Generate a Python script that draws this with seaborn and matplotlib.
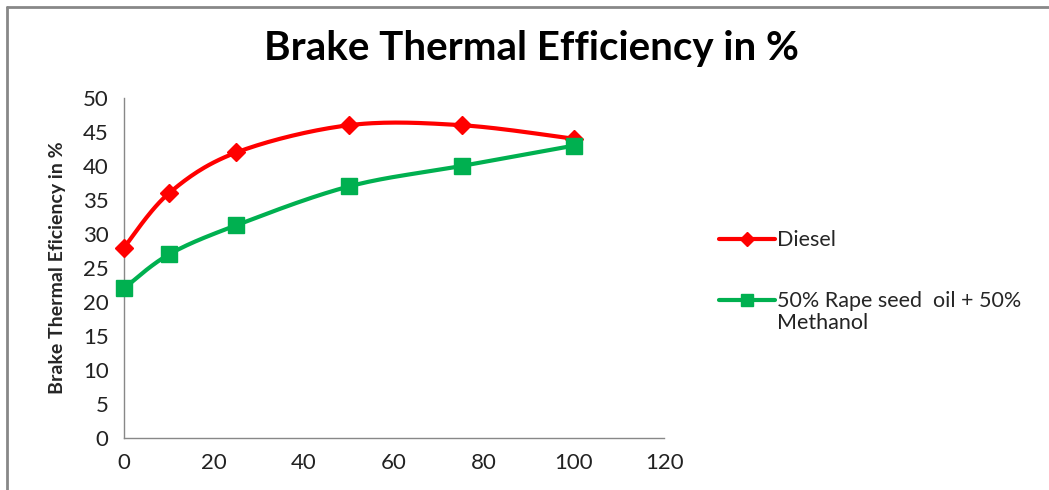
import numpy as np
import pandas as pd
import matplotlib
matplotlib.use("Agg")
import matplotlib.pyplot as plt
import seaborn as sns
from matplotlib.lines import Line2D

# data
load = [0, 10, 25, 50, 75, 100]
diesel = [28, 36, 42, 46, 46, 44]
blend = [22, 27, 31.3, 37, 40, 43]
series_names = ["Diesel", "50% Rape seed  oil + 50%"]
name_wrap = "Methanol"
x_ticks = [0, 20, 40, 60, 80, 100, 120]
y_ticks = [0, 5, 10, 15, 20, 25, 30, 35, 40, 45, 50]


def smooth(xs, ys, n=30):
    # Excel-style smoothed line (Catmull-Rom through the points)
    xs = np.asarray(xs, float)
    ys = np.asarray(ys, float)
    px = np.concatenate([[xs[0]], xs, [xs[-1]]])
    py = np.concatenate([[ys[0]], ys, [ys[-1]]])
    out_x, out_y = [], []
    t = np.linspace(0, 1, n)
    for i in range(1, len(px) - 2):
        p0x, p1x, p2x, p3x = px[i - 1:i + 3]
        p0y, p1y, p2y, p3y = py[i - 1:i + 3]
        c1x, c1y = p1x + (p2x - p0x) / 6, p1y + (p2y - p0y) / 6
        c2x, c2y = p2x - (p3x - p1x) / 6, p2y - (p3y - p1y) / 6
        bx = (1 - t) ** 3 * p1x + 3 * (1 - t) ** 2 * t * c1x + 3 * (1 - t) * t ** 2 * c2x + t ** 3 * p2x
        by = (1 - t) ** 3 * p1y + 3 * (1 - t) ** 2 * t * c1y + 3 * (1 - t) * t ** 2 * c2y + t ** 3 * p2y
        out_x.extend(bx)
        out_y.extend(by)
    return np.array(out_x), np.array(out_y)


sns.set_style("white")
plt.rcParams["font.family"] = ["Lato", "DejaVu Sans"]

fig = plt.figure(figsize=(10.49, 4.9), dpi=100)
ax = fig.add_axes([0.1182, 0.1061, 0.5148, 0.6939])

colors = ["#FF0000", "#00B050"]
markers = ["D", "s"]
msizes = [9, 11]
handles = []
for ys, name, c, m, ms in zip([diesel, blend], series_names, colors, markers, msizes):
    sx, sy = smooth(load, ys)
    sns.lineplot(x=sx, y=sy, ax=ax, color=c, linewidth=3, sort=False, estimator=None)
    ax.plot(load, ys, linestyle="none", marker=m, markersize=ms, color=c, zorder=5)
    handles.append(Line2D([0], [0], color=c, linewidth=3, marker=m, markersize=ms * 0.75, label=name))

ax.set_xlim(0, 120)
ax.set_ylim(0, 50)
ax.set_xticks(x_ticks)
ax.set_yticks(y_ticks)
ax.tick_params(axis="both", direction="out", length=5, color="#888888", labelsize=16,
               labelcolor="#222222", pad=6)
for side in ["top", "right"]:
    ax.spines[side].set_visible(False)
for side in ["left", "bottom"]:
    ax.spines[side].set_color("#888888")
    ax.spines[side].set_linewidth(1)
for ln in ax.lines:
    ln.set_clip_on(False)

ax.set_ylabel("Brake Thermal Eficiency in %", fontsize=14, fontweight="bold", labelpad=12)

fig.text(0.507, 0.902, "Brake Thermal Efficiency in %", ha="center", va="center",
         fontsize=29, fontweight="bold", color="black")

leg = fig.legend(handles=handles, loc="upper left", bbox_to_anchor=(0.6674, 0.5695),
                 frameon=False, fontsize=15.5, handlelength=2.6, handletextpad=0.05,
                 labelspacing=1.9)

# second line of the wrapped legend label sits under the first
fig.canvas.draw()
bb = leg.get_texts()[1].get_window_extent()
W, H = fig.bbox.width, fig.bbox.height
fig.text(bb.x0 / W, (bb.y0 - 2) / H, name_wrap, ha="left", va="top", fontsize=15.5,
         color="#222222")

# outer chart border (cut off at right and bottom in the original)
fig.add_artist(Line2D([7 / 1049, 1], [1 - 7 / 490, 1 - 7 / 490], color="#888888", linewidth=2))
fig.add_artist(Line2D([7 / 1049, 7 / 1049], [0, 1 - 7 / 490], color="#888888", linewidth=2))

fig.savefig("out.png", dpi=100, facecolor="white")
